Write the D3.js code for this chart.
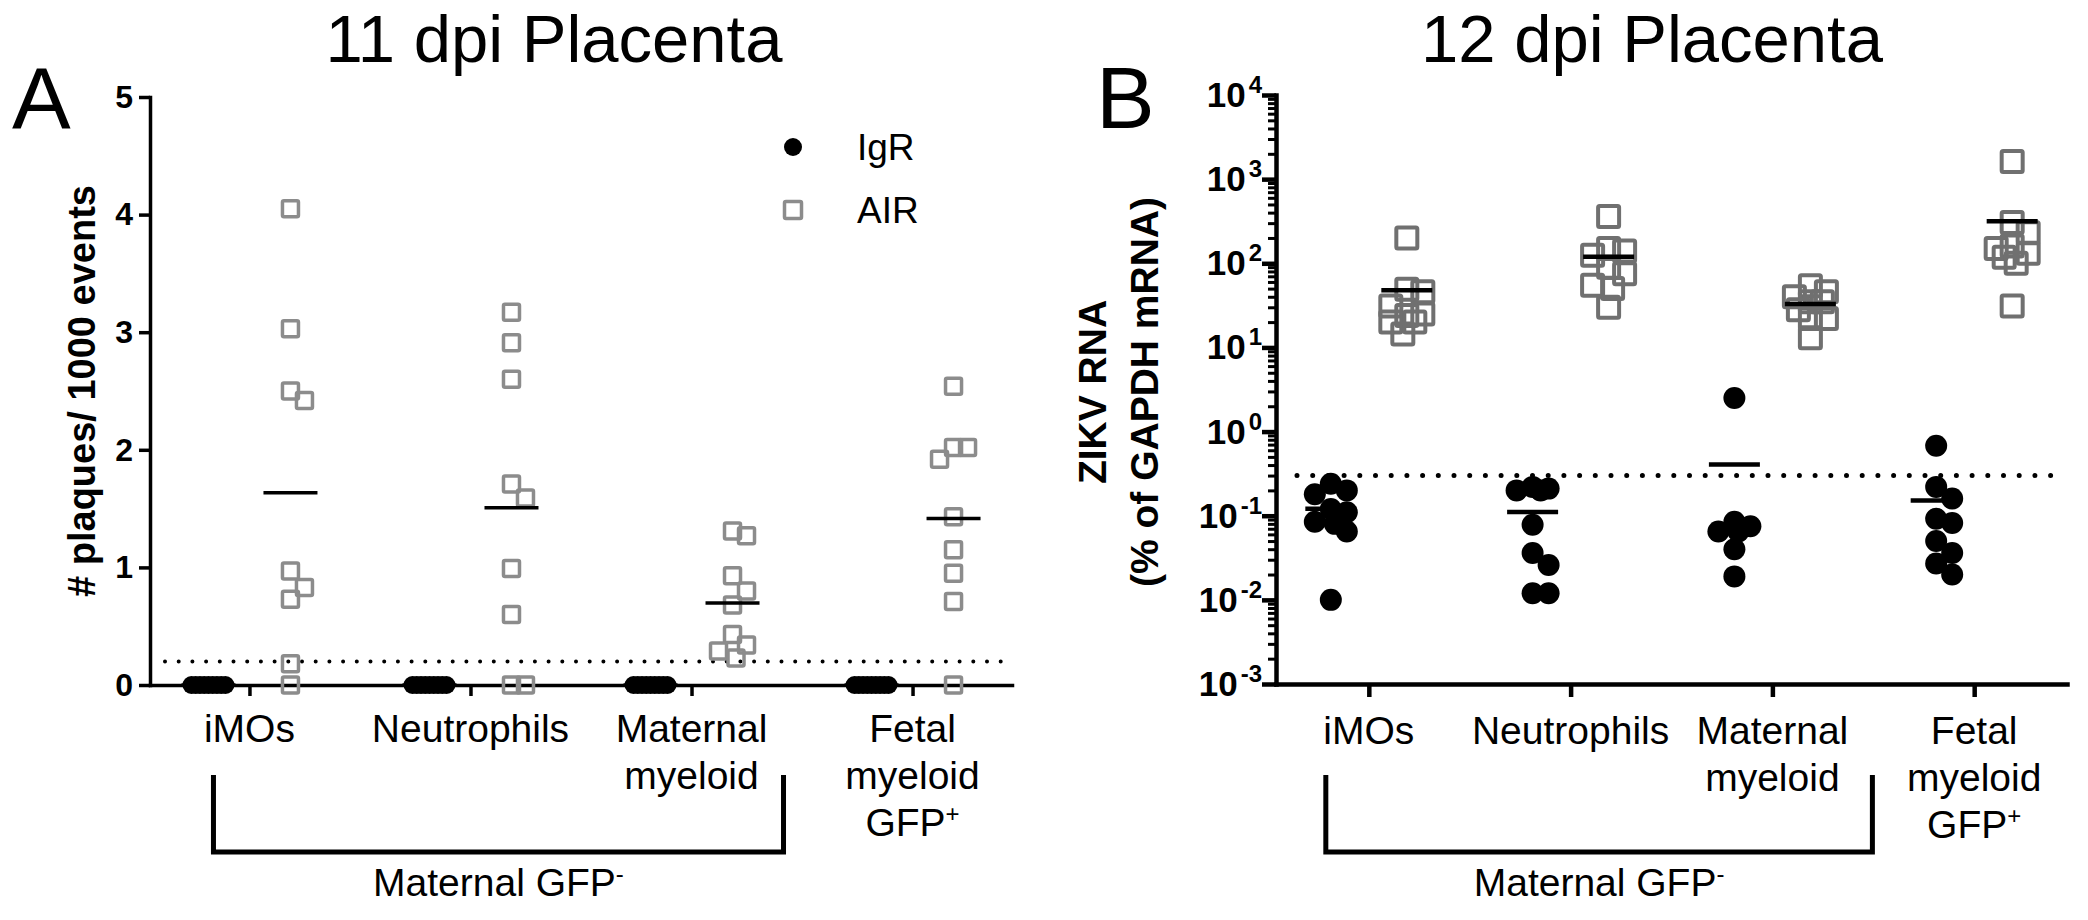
<!DOCTYPE html>
<html><head><meta charset="utf-8">
<script src="https://cdn.jsdelivr.net/npm/d3@7"></script>
<style>
html,body{margin:0;padding:0;background:#fff;}
svg{display:block;font-family:"Liberation Sans",Arial,Helvetica,sans-serif;}
</style></head><body>
<svg id="chart" width="2088" height="920"></svg>
<script>
// ---------- data ----------
const categories = ["iMOs", "Neutrophils", "Maternal myeloid", "Fetal myeloid GFP+"];
const categoryLines = [["iMOs"], ["Neutrophils"], ["Maternal", "myeloid"], ["Fetal", "myeloid", "GFP+"]];
const groups = ["IgR", "AIR"];
const bracketLabel = "Maternal GFP-";

// Panel A: 11 dpi placenta, # plaques / 1000 events
const titleA = "11 dpi Placenta";
const yLabelA = "# plaques/ 1000 events";
const yTicksA = [0, 1, 2, 3, 4, 5];
const plaquesIgR = [
  [0, 0, 0, 0, 0, 0, 0, 0, 0],
  [0, 0, 0, 0, 0, 0, 0, 0, 0],
  [0, 0, 0, 0, 0, 0, 0, 0, 0],
  [0, 0, 0, 0, 0, 0, 0, 0, 0]
];
const plaquesAIR = [
  [4.05, 3.03, 2.5, 2.42, 0.97, 0.83, 0.73, 0.18, 0],
  [3.17, 2.91, 2.6, 1.71, 1.59, 0.99, 0.6, 0, 0],
  [1.31, 1.27, 0.93, 0.8, 0.68, 0.43, 0.34, 0.29, 0.23],
  [2.54, 2.02, 2.02, 1.92, 1.43, 1.15, 0.95, 0.71, 0]
];
const limitA = 0.2;

// Panel B: 12 dpi placenta, ZIKV RNA (% of GAPDH mRNA)
const titleB = "12 dpi Placenta";
const yLabelB = ["ZIKV RNA", "(% of GAPDH mRNA)"];
const yTicksB = [1e-3, 1e-2, 1e-1, 1e0, 1e1, 1e2, 1e3, 1e4];
const rnaIgR = [
  [0.24, 0.2, 0.18, 0.12, 0.11, 0.085, 0.08, 0.065, 0.01],
  [0.22, 0.21, 0.2, 0.2, 0.078, 0.036, 0.026, 0.012, 0.012],
  [2.5, 0.085, 0.075, 0.065, 0.065, 0.04, 0.019],
  [0.68, 0.22, 0.16, 0.092, 0.082, 0.05, 0.036, 0.027, 0.02]
];
const rnaAIR = [
  [200, 49, 46, 31, 25, 24, 20, 20, 14.4],
  [360, 150, 140, 125, 90, 75, 55, 50, 30],
  [54, 46, 40, 35, 35, 28, 22, 22, 13],
  [1620, 305, 230, 160, 150, 132, 118, 100, 31]
];
const limitB = 0.3;

// ---------- drawing ----------
const svg = d3.select("#chart");
const FONT = "'Liberation Sans', Arial, Helvetica, sans-serif";

// horizontal dodge: first free slot, otherwise the slot farthest from placed points
function dodge(vals, y, spread, minDist) {
  const order = vals.map((v, i) => i).sort((a, b) => vals[b] - vals[a]);
  const f = [0, 1, -1, 0.5, -0.5, 0.75, -0.75, 0.25, -0.25];
  const cands = f.map(k => k * spread);
  const placed = [], off = new Array(vals.length);
  for (const i of order) {
    const py = y(vals[i]);
    let choice = null, bestD = -1;
    for (const c of cands) {
      let md = Infinity;
      for (const p of placed) md = Math.min(md, Math.hypot(p.x - c, p.y - py));
      if (md >= minDist) { choice = c; break; }
      if (md > bestD + 1e-9) { bestD = md; choice = c; }
    }
    off[i] = choice;
    placed.push({x: choice, y: py});
  }
  return off;
}

function drawPanel(cfg) {
  const g = svg.append("g");
  const x = d3.scalePoint().domain(categories).range([cfg.left, cfg.right]).padding(cfg.pad);
  const y = cfg.y;

  // limit of detection dotted line
  g.append("line")
    .attr("x1", cfg.dotX1).attr("x2", cfg.dotX2)
    .attr("y1", y(cfg.limit)).attr("y2", y(cfg.limit))
    .attr("stroke", "#000").attr("stroke-width", cfg.dotW)
    .attr("stroke-linecap", "round").attr("stroke-dasharray", `0 ${cfg.dotGap}`);

  // x axis
  const xa = g.append("g").attr("transform", `translate(0,${cfg.bottom})`)
    .call(d3.axisBottom(x).tickSize(cfg.xTick).tickSizeOuter(0).tickFormat(""));
  xa.selectAll("path,line").attr("stroke", "#000").attr("stroke-width", cfg.axisW);
  xa.select("path").attr("stroke-linecap", "square");

  // y axis
  const ya = g.append("g").attr("transform", `translate(${cfg.left},0)`)
    .call(d3.axisLeft(y).tickValues(cfg.ticks).tickSize(cfg.yTick).tickSizeOuter(0)
      .tickPadding(6).tickFormat(cfg.log ? () => "" : d3.format("d")));
  ya.selectAll("path,line").attr("stroke", "#000").attr("stroke-width", cfg.axisW);
  ya.select("path").attr("stroke-linecap", "square");
  ya.selectAll("text").attr("font-family", FONT).attr("font-size", 32)
    .attr("font-weight", "bold").attr("fill", "#000");

  if (cfg.log) {
    const minor = y.ticks().filter(v => Math.abs(Math.log10(v) - Math.round(Math.log10(v))) > 1e-6);
    const ma = g.append("g").attr("transform", `translate(${cfg.left},0)`)
      .call(d3.axisLeft(y).tickValues(minor).tickSize(8).tickFormat(""));
    ma.select("path").remove();
    ma.selectAll("line").attr("stroke", "#000").attr("stroke-width", 3);
    const lab = g.append("g").attr("font-family", FONT).attr("font-weight", "bold")
      .attr("text-anchor", "end").attr("fill", "#000");
    cfg.ticks.forEach(v => {
      const t = lab.append("text").attr("x", cfg.left - 14).attr("y", y(v) + 12);
      t.append("tspan").attr("font-size", 35).text("10");
      t.append("tspan").attr("font-size", 24).attr("dx", 3).attr("dy", -14)
        .text(String(Math.round(Math.log10(v))));
    });
  }

  // category labels
  const cl = g.append("g").attr("font-family", FONT).attr("font-size", 39)
    .attr("text-anchor", "middle").attr("fill", "#000");
  categories.forEach((c, i) => {
    categoryLines[i].forEach((line, j) => {
      const t = cl.append("text").attr("x", x(c)).attr("y", cfg.labelY + j * 47);
      const m = line.match(/^(.*?)([+-])$/);
      if (m) {
        t.append("tspan").text(m[1]);
        t.append("tspan").attr("font-size", 24).attr("dy", -14).text(m[2]);
      } else t.text(line);
    });
  });

  // bracket and its label
  const bl = x(categories[0]) - cfg.brL, br = x(categories[2]) + cfg.brR;
  g.append("path")
    .attr("d", `M${bl},775 V852 H${br} V775`)
    .attr("fill", "none").attr("stroke", "#000").attr("stroke-width", 5);
  const bt = g.append("text").attr("x", (bl + br) / 2).attr("y", 896)
    .attr("font-family", FONT).attr("font-size", 39).attr("text-anchor", "middle");
  bt.append("tspan").text(bracketLabel.slice(0, -1));
  bt.append("tspan").attr("font-size", 24).attr("dy", -14).text(bracketLabel.slice(-1));

  // points
  const pts = g.append("g");
  categories.forEach((c, i) => {
    const cx0 = x(c) - cfg.sub, cx1 = x(c) + cfg.sub;
    const v0 = cfg.igr[i], v1 = cfg.air[i];
    const o0 = dodge(v0, y, cfg.spread0, cfg.minDist);
    const o1 = dodge(v1, y, cfg.spread1, cfg.minDist);
    v1.forEach((v, k) => {
      pts.append("rect")
        .attr("x", cx1 + o1[k] - cfg.sq / 2).attr("y", y(v) - cfg.sq / 2)
        .attr("width", cfg.sq).attr("height", cfg.sq).attr("rx", 1.5)
        .attr("fill", "none").attr("stroke", cfg.sqColor).attr("stroke-width", cfg.sqW);
    });
    v0.forEach((v, k) => {
      pts.append("circle").attr("cx", cx0 + o0[k]).attr("cy", y(v)).attr("r", cfg.r).attr("fill", "#000");
    });
    [[cx0, d3.mean(v0)], [cx1, d3.mean(v1)]].forEach(([cx, m]) => {
      pts.append("line").attr("x1", cx - cfg.meanW / 2).attr("x2", cx + cfg.meanW / 2)
        .attr("y1", y(m)).attr("y2", y(m)).attr("stroke", "#000").attr("stroke-width", cfg.meanSW);
    });
  });
  return {g, x, y};
}

// Panel A
const yA = d3.scaleLinear().domain([0, 5]).range([685, 97]);
drawPanel({
  left: 150, right: 1012, pad: 0.45, bottom: 685, y: yA, log: false, ticks: yTicksA,
  igr: plaquesIgR, air: plaquesAIR, limit: limitA,
  dotX1: 165, dotX2: 1005, dotW: 4, dotGap: 13.7,
  axisW: 3.5, xTick: 11, yTick: 11, labelY: 742, brL: 36, brR: 92,
  sub: 41, spread0: 17, spread1: 14, minDist: 17, r: 9, sq: 16, sqW: 3.5, sqColor: "#8c8c8c",
  meanW: 54, meanSW: 3.5
});

// Panel B
const yB = d3.scaleLog().domain([1e-3, 1e4]).range([684, 95]);
drawPanel({
  left: 1276, right: 2067, pad: 0.46, bottom: 684, y: yB, log: true, ticks: yTicksB,
  igr: rnaIgR, air: rnaAIR, limit: limitB,
  dotX1: 1297, dotX2: 2065, dotW: 5, dotGap: 15.7,
  axisW: 4.5, xTick: 13, yTick: 14, labelY: 744, brL: 43, brR: 100,
  sub: 38, spread0: 16, spread1: 16, minDist: 18, r: 11, sq: 21, sqW: 4, sqColor: "#707070",
  meanW: 51, meanSW: 4.5
});

// titles and panel letters
const txt = svg.append("g").attr("font-family", FONT).attr("fill", "#000");
txt.append("text").attr("x", 554).attr("y", 62).attr("font-size", 67).attr("text-anchor", "middle").text(titleA);
txt.append("text").attr("x", 1652).attr("y", 62).attr("font-size", 67).attr("text-anchor", "middle").text(titleB);
txt.append("text").attr("x", 12).attr("y", 129).attr("font-size", 88).text("A");
txt.append("text").attr("x", 1096).attr("y", 128).attr("font-size", 88).text("B");

// y labels
txt.append("text").attr("transform", "translate(82,391) rotate(-90)")
  .attr("text-anchor", "middle").attr("dominant-baseline", "central")
  .attr("font-size", 38).attr("font-weight", "bold").text(yLabelA);
yLabelB.forEach((l, j) => {
  txt.append("text").attr("transform", `translate(${1092 + j * 52},392) rotate(-90)`)
    .attr("text-anchor", "middle").attr("dominant-baseline", "central")
    .attr("font-size", 39).attr("font-weight", "bold").text(l);
});

// legend (panel A)
const lg = svg.append("g").attr("font-family", FONT).attr("font-size", 37);
lg.append("circle").attr("cx", 793).attr("cy", 147).attr("r", 9).attr("fill", "#000");
lg.append("rect").attr("x", 793 - 8.5).attr("y", 210 - 8.5).attr("width", 17).attr("height", 17).attr("rx", 1.5)
  .attr("fill", "none").attr("stroke", "#8c8c8c").attr("stroke-width", 3.5);
lg.append("text").attr("x", 857).attr("y", 160).text(groups[0]);
lg.append("text").attr("x", 857).attr("y", 223).text(groups[1]);
</script>
</body></html>
